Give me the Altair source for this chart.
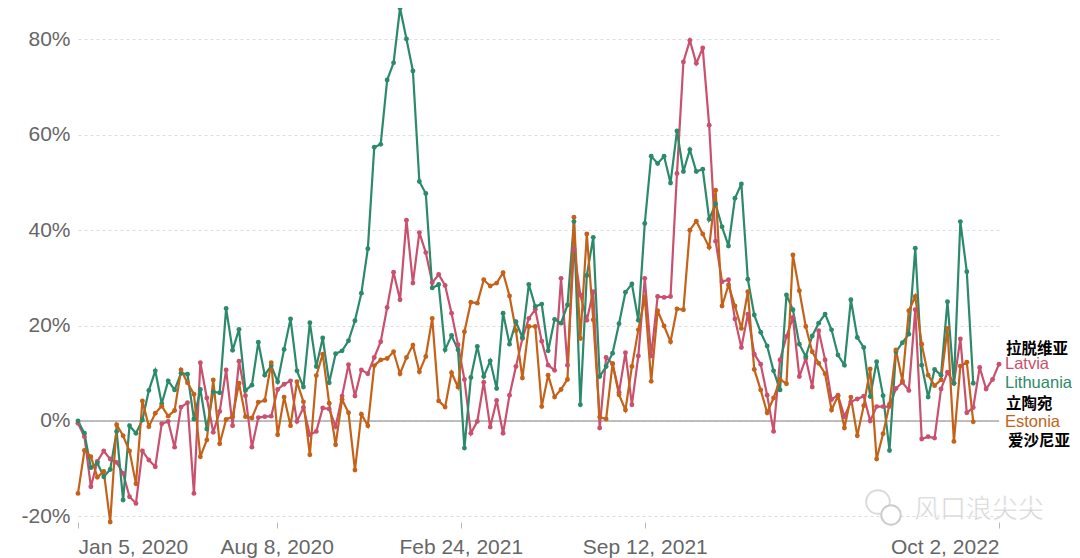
import altair as alt
import pandas as pd

start_date = "2020-01-05"

latvia = [-0.5, -3.3, -13.8, -8.5, -6.3, -8.0, -8.7, -11.0, -15.9, -17.3,
          -6.3, -8.2, -9.6, -0.6, -0.1, -5.5, 2.9, 3.8, -15.2, 12.2,
          4.8, -2.4, 2.0, 10.7, -1.0, 12.5, 5.3, -5.5, 0.7, 0.9,
          1.0, 6.6, 7.7, 8.4, -0.1, 2.8, -2.9, -2.2, 2.7, 2.5,
          -1.2, 5.2, 11.8, 5.2, 10.7, 9.9, 13.3, 16.6, 23.8, 31.2,
          25.4, 42.1, 28.9, 39.5, 35.3, 29.0, 30.7, 28.4, 22.6, 16.0,
          8.7, -2.6, -0.1, 8.1, -1.3, 4.3, -2.6, 5.4, 11.4, 17.3,
          21.5, 23.4, 16.7, 11.7, 10.6, 29.9, 11.7, 36.0, 26.4, 21.1,
          27.1, -1.5, 13.3, 12.0, 6.0, 14.3, 3.4, 13.6, 29.9, 13.6,
          26.1, 25.9, 26.1, 51.9, 75.3, 79.8, 75.0, 78.2, 62.0, 37.7,
          29.2, 29.6, 21.4, 15.4, 22.4, 14.0, 11.9, 5.4, -2.2, 12.8,
          17.7, 21.7, 9.3, 13.1, 7.1, 18.9, 12.8, 4.5, 5.4, 0.9,
          4.0, 4.6, 5.2, 0.0, 3.0, 3.0, 3.0, 6.8, 8.1, 6.4,
          23.3, -3.8, -3.3, -3.6, 6.7, 10.2, 7.9, 17.2, 1.7, 2.8,
          11.2, 6.7, 8.7, 11.9]

lithuania = [0.0, -2.6, -9.8, -8.8, -11.7, -10.2, -2.2, -16.6, -1.0, -2.6,
             0.2, 6.4, 10.5, 3.6, 8.4, 6.5, 10.0, 9.8, 0.4, 6.6,
             -1.7, 6.1, 5.9, 23.6, 14.8, 19.2, 6.4, 7.5, 16.5, 9.6,
             11.6, 8.2, 15.0, 21.4, 10.5, 7.1, 20.6, 11.4, 17.4, 8.0,
             14.1, 14.7, 16.8, 21.0, 26.8, 36.1, 57.4, 58.0, 71.5, 75.1,
             86.6, 80.1, 73.4, 50.2, 47.7, 27.9, 28.6, 14.9, 17.9, 14.9,
             -5.7, 9.1, 15.6, 9.3, 12.6, 6.8, 22.6, 16.1, 20.8, 17.5,
             28.6, 24.0, 24.5, 14.7, 21.3, 20.5, 24.3, 41.8, 3.4, 30.5,
             38.5, 9.3, 11.4, 14.2, 20.4, 27.0, 28.7, 21.1, 41.4, 55.5,
             54.0, 55.5, 49.9, 60.8, 52.3, 56.9, 52.3, 52.8, 42.3, 45.5,
             40.7, 36.7, 46.7, 49.7, 29.7, 22.2, 18.6, 15.7, 10.5, 6.5,
             26.4, 23.3, 16.1, 13.5, 17.8, 20.5, 22.4, 19.1, 13.8, 11.7,
             25.4, 17.5, 15.4, 5.1, 12.4, 5.3, -6.2, 14.5, 16.4, 18.2,
             36.2, 11.7, 5.0, 10.8, 9.6, 25.0, 7.9, 41.8, 31.3, 7.9]

estonia = [-15.2, -6.2, -7.5, -11.8, -10.6, -21.2, -0.8, -3.1, -6.3, -13.2,
           4.2, -1.2, 1.6, 3.1, 1.0, 2.2, 10.7, 8.0, 5.6, -7.5,
           -4.0, 8.6, -4.8, 0.3, 0.9, 7.9, 0.9, 0.6, 3.9, 4.3,
           12.2, -2.9, 5.0, -1.0, 8.2, 4.0, -7.1, 9.5, 14.0, 3.7,
           -5.0, 4.5, 1.7, -10.3, 1.4, -1.0, 11.6, 12.8, 13.1, 14.5,
           9.9, 13.3, 15.9, 10.3, 13.5, 21.5, 4.2, 2.9, 10.1, 7.1,
           18.7, 24.9, 24.7, 29.6, 28.3, 28.9, 31.1, 26.2, 18.9, 9.0,
           19.8, 19.8, 3.0, 9.6, 5.0, 6.6, 8.7, 42.7, 17.3, 39.2,
           21.2, 0.8, 0.4, 12.0, 5.5, 2.3, 11.4, 19.1, 26.0, 8.3,
           23.1, 19.9, 16.6, 23.5, 23.3, 40.0, 41.9, 39.2, 36.4, 48.4,
           24.1, 28.5, 24.1, 19.4, 27.1, 10.8, 6.5, 1.7, 4.8, 8.7,
           7.8, 34.8, 27.3, 19.8, 14.5, 12.1, 9.9, 2.3, 5.2, -1.5,
           5.0, -3.1, 3.2, 10.9, -8.0, -2.7, 3.5, 14.9, 8.4, 23.1,
           26.1, 16.1, 9.6, 7.4, 8.6, 19.4, -4.3, 11.5, 12.3, -0.2]

countries = ["Latvia", "Lithuania", "Estonia"]
zh_names = ["拉脱维亚", "立陶宛", "爱沙尼亚"]
colors = ["#c9506e", "#2b8a69", "#c4621a"]
tick_dates = [(2020, 1, 5), (2020, 8, 8), (2021, 2, 24), (2021, 9, 12), (2022, 10, 2)]
y_ticks = [-20, 0, 20, 40, 60, 80]
watermark = "风口浪尖尖"

dates = pd.date_range(start_date, periods=len(latvia), freq="7D")
rows = []
for name, vals in zip(countries, [latvia, lithuania, estonia]):
    for d, v in zip(dates, vals):
        rows.append({"date": d.strftime("%Y-%m-%dT00:00:00"), "country": name, "value": v})
df = pd.DataFrame(rows)

last_date = dates[len(latvia) - 1].strftime("%Y-%m-%dT00:00:00")
lab = pd.DataFrame({
    "date": [last_date] * 3,
    "country": countries,
    "zh": zh_names,
    "value": [latvia[-1], lithuania[-1], estonia[-1]],
})

FONT = "Liberation Sans"
xdom = [alt.DateTime(year=2020, month=1, date=5), alt.DateTime(year=2022, month=10, date=2)]
x_enc = alt.X(
    "date:T",
    scale=alt.Scale(domain=xdom, nice=False),
    axis=alt.Axis(
        values=[alt.DateTime(year=y, month=m, date=d) for y, m, d in tick_dates],
        format="%b %-d, %Y", title=None, grid=False, domain=False,
        ticks=True, tickColor="#bbbbbb", tickSize=6, labelPadding=8,
        labelFontSize=21, labelColor="#666666", labelFont=FONT, labelFlush=True,
    ),
)
y_enc = alt.Y(
    "value:Q",
    scale=alt.Scale(domain=[-21.2, 86.6], nice=False, zero=False),
    axis=alt.Axis(
        values=y_ticks, labelExpr="datum.value + '%'", title=None,
        grid=True, gridDash=[3, 3], gridColor="#dddddd", domain=False,
        ticks=False, labelPadding=8, labelFontSize=21, labelColor="#666666",
        labelFont=FONT,
    ),
)
color_enc = alt.Color("country:N", scale=alt.Scale(domain=countries, range=colors), legend=None)

base = alt.Chart(df)
zero = alt.Chart(pd.DataFrame({"v": [0]})).mark_rule(color="#aaaaaa", strokeWidth=1.5).encode(y=alt.Y("v:Q"))
lines = base.mark_line(strokeWidth=2.2).encode(x=x_enc, y=y_enc, color=color_enc, detail="country:N")
pts = base.mark_circle(size=24, opacity=1).encode(x=x_enc, y=y_enc, color=color_enc)

en_labels = alt.Chart(lab).mark_text(align="left", baseline="middle", dx=6, fontSize=16.5, font=FONT).encode(
    x="date:T", y="value:Q", text="country:N", color=color_enc)

zh_layers = []
for name, dy, dx in zip(countries, [-15, 21, 19], [7, 7, 9]):
    zh_layers.append(
        alt.Chart(lab).transform_filter(alt.datum.country == name)
        .mark_text(align="left", baseline="middle", dx=dx, dy=dy, fontSize=15.5,
                   fontWeight="bold", font="Noto Sans CJK SC", color="#000000")
        .encode(x="date:T", y="value:Q", text="zh:N")
    )

wm_df = pd.DataFrame({"t": [watermark]})
wm = alt.Chart(wm_df).mark_text(
    align="left", baseline="middle", fontSize=26, font="Noto Sans CJK SC", color="#d4d4d4",
    stroke="#ffffff", strokeWidth=0.6
).encode(x=alt.value(836), y=alt.value(502), text="t:N")
bubble1 = alt.Chart(wm_df).mark_point(shape="circle", filled=False, color="#cccccc", strokeWidth=2, size=560).encode(
    x=alt.value(800), y=alt.value(494))
bubble2 = alt.Chart(wm_df).mark_point(shape="circle", filled=True, color="#ffffff", strokeWidth=2, size=380,
                                      stroke="#cccccc", opacity=1).encode(x=alt.value(813), y=alt.value(507))

chart = alt.layer(zero, lines, pts, en_labels, *zh_layers, bubble1, bubble2, wm).properties(
    width=921, height=514,
    autosize=alt.AutoSizeParams(type="none"),
    padding={"left": 70, "top": 0, "right": 73, "bottom": 38},
).configure_view(stroke=None)

chart.save("out.html", embed_options={"renderer": "svg", "actions": False})
